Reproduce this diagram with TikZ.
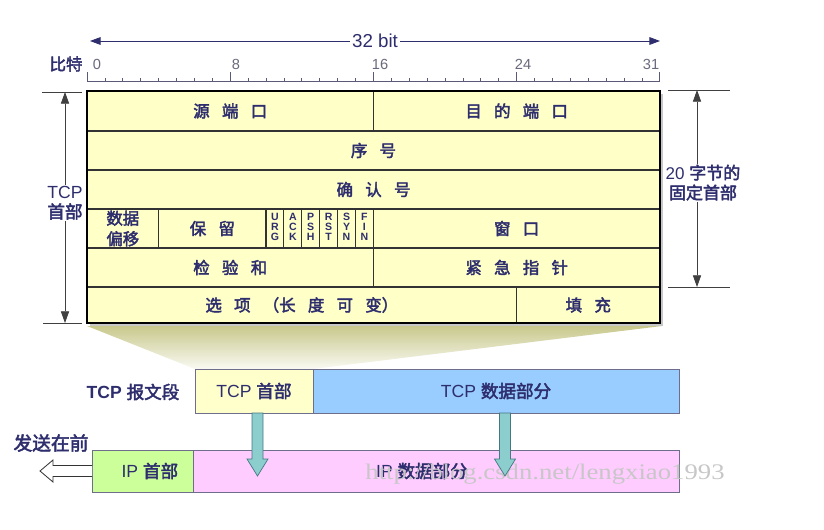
\documentclass[tikz,border=0pt]{standalone}
\usepackage{fontspec}
\setmainfont{Liberation Sans}
\newfontfamily\cjk[AutoFakeBold=2.6]{Noto Sans CJK SC}
\newfontfamily\wmfont{Liberation Serif}
\usetikzlibrary{arrows.meta, positioning, calc}
\definecolor{cNavy}{RGB}{46,46,110}
\definecolor{cGrey}{RGB}{105,105,125}
\definecolor{cRule}{RGB}{90,90,120}
\definecolor{cTable}{RGB}{255,255,200}
\definecolor{cHdr}{RGB}{255,255,204}
\definecolor{cData}{RGB}{153,204,255}
\definecolor{cIpHdr}{RGB}{204,255,153}
\definecolor{cIpData}{RGB}{255,204,255}
\definecolor{cEdge}{RGB}{110,110,140}
\definecolor{cTeal}{RGB}{140,205,205}
\definecolor{cTealDk}{RGB}{70,120,130}
\definecolor{cKhaki}{RGB}{200,200,140}
\newcommand{\zh}[1]{{\cjk\bfseries #1}}
\newcommand{\gap}{\hspace{0.75em}}
\newcommand{\bitw}{17.9}
\tikzset{
    cell/.style     ={draw=black!80, line width=1pt},
    frame/.style    ={draw=black, line width=1.6pt},
    celltext/.style ={font=\fontsize{14}{17.5}\selectfont\cjk\bfseries, text=cNavy, align=center, inner sep=0pt},
    flagtext/.style ={font=\fontsize{9}{8.6}\selectfont\bfseries, text=cNavy, align=center, inner sep=0pt},
    seg/.style      ={draw=cEdge, line width=0.8pt},
    segtext/.style  ={font=\fontsize{15}{18}\selectfont, text=cNavy},
    bitnum/.style   ={font=\fontsize{12.5}{14}\selectfont, text=cGrey, inner sep=0pt},
    ruler/.style    ={draw=cRule, line width=0.6pt},
    bitarrow/.style ={{Triangle[length=9pt,width=6.5pt]}-{Triangle[length=9pt,width=6.5pt]}, draw=cRule, line width=0.7pt, color=cNavy},
    dimline/.style  ={draw=black!75, line width=0.7pt},
    dimarrow/.style ={{Triangle[length=10pt,width=7pt]}-{Triangle[length=10pt,width=7pt]}, draw=black!75, line width=0.7pt},
    downarrow/.style={draw=cTealDk, fill=cTeal, line width=0.6pt},
    hollow/.style   ={draw=black!80, fill=white, line width=0.7pt},
}
\begin{document}
\begin{tikzpicture}[x=0.03cm, y=-0.03cm]
\useasboundingbox (0,0) rectangle (824,529);

% bit scale
\coordinate (bitL) at (90,41);
\coordinate (bitR) at (660,41);
\draw[bitarrow] (bitL) -- node[fill=white, text=cNavy, font=\fontsize{16}{18}\selectfont, inner sep=2pt] (bitLbl) {32 bit} (bitR);
\node[font=\fontsize{14}{16}\selectfont\cjk\bfseries, text=cNavy] (bitWord) at (66,64) {比特};
\draw[ruler] (87,81.5) -- (660,81.5);
\foreach \b in {0,...,32}
    \draw[ruler] ({87+\b*\bitw},81.5) -- ++(0,-3.5);
\foreach \b in {0,8,16,24,32}
    \draw[ruler] ({87+\b*\bitw},81.5) -- ++(0,-10);
\foreach \x/\t in {97/0, 236/8, 380/16, 523/24, 651/31}
    \node[bitnum] (bit\t) at (\x,64) {\t};

% header table
\fill[black!22] (90,94) rectangle (663,326);
\fill[cTable] (87,91) rectangle (660,323);
\draw[cell] (87,91) rectangle node[celltext] (srcPort) {源\gap{}端\gap{}口} (373.4,131);
\draw[cell] (373.4,91) rectangle node[celltext] (dstPort) {目\gap{}的\gap{}端\gap{}口} (660,131);
\draw[cell] (87,131) rectangle node[celltext] (seqNum) {序\gap{}号} (660,170);
\draw[cell] (87,170) rectangle node[celltext] (ackNum) {确\gap{}认\gap{}号} (660,209);
\draw[cell] (87,209) rectangle node[celltext] (dataOff) {数据\\偏移} (158.6,248);
\draw[cell] (158.6,209) rectangle node[celltext] (reserved) {保\gap{}留} (266,248);
\foreach \f/\nm [count=\i from 10] in {{U\\R\\G}/urg, {A\\C\\K}/ack, {P\\S\\H}/psh, {R\\S\\T}/rst, {S\\Y\\N}/syn, {F\\I\\N}/fin}
    \draw[cell] ({87+\i*\bitw},209) rectangle node[flagtext, yshift=0.05cm] (\nm) {\f} ({87+(\i+1)*\bitw},248);
\draw[cell] (373.4,209) rectangle node[celltext] (window) {窗\gap{}口} (660,248);
\draw[cell] (87,248) rectangle node[celltext] (checksum) {检\gap{}验\gap{}和} (373.4,287);
\draw[cell] (373.4,248) rectangle node[celltext] (urgPtr) {紧\gap{}急\gap{}指\gap{}针} (660,287);
\draw[cell] (87,287) rectangle node[celltext] (options) {选\gap{}项\gap{}（长\gap{}度\gap{}可\gap{}变）} (516.6,323);
\draw[cell] (516.6,287) rectangle node[celltext] (padding) {填\gap{}充} (660,323);
\draw[frame] (87,91) rectangle (660,323);

% left dimension
\coordinate (lTop) at (65,92);
\coordinate (lBot) at (65,323);
\draw[dimline] (42,92) -- (82,92);
\draw[dimline] (43,323) -- (82,323);
\draw[dimarrow] (lTop) -- node[fill=white, align=center, font=\fontsize{15}{17}\selectfont, text=cNavy, inner sep=1pt, pos=0.48] (tcpHdrLbl) {TCP\\\zh{首部}} (lBot);

% right dimension
\coordinate (rTop) at (697,90);
\coordinate (rBot) at (697,287);
\draw[dimline] (668,90) -- (730,90);
\draw[dimline] (668,287) -- (730,287);
\draw[dimarrow] (rTop) -- node[fill=white, align=center, font=\fontsize{14.5}{17}\selectfont, text=cNavy, inner sep=1pt, pos=0.47, xshift=0.18cm] (fixedLbl) {20 \zh{字节的}\\\zh{固定首部}} (rBot);

% segment
\shade[top color=cKhaki, bottom color=cKhaki!10] (87,326) -- (662,326) -- (313,369) -- (195,369) -- cycle;
\node[segtext, font=\fontsize{15}{18}\selectfont\bfseries] (segLbl) at (133,392) {TCP \zh{报文段}};
\draw[seg, fill=cHdr] (195,369) rectangle node[segtext] (tcpHdr) {TCP \zh{首部}} (313,413);
\draw[seg, fill=cData] (313,369) rectangle node[segtext] (tcpData) {TCP \zh{数据部分}} (679,413);

% IP datagram
\node[font=\fontsize{16}{18}\selectfont\cjk\bfseries, text=cNavy] (sendFirst) at (51,443) {发送在前};
\draw[seg, fill=cIpHdr] (92,450) rectangle node[segtext, xshift=0.22cm] (ipHdr) {IP \zh{首部}} (193,492);
\draw[seg, fill=cIpData] (193,450) rectangle node[segtext, xshift=-0.42cm] (ipData) {IP \zh{数据部分}} (679,492);
\node[text=black!22, font=\fontsize{19}{21}\selectfont\wmfont] (wmark) at (545,474) {\scalebox{1.2}[1]{http://blog.csdn.net/lengxiao1993}};

% arrows
\coordinate (dnA) at (257.5,413);
\coordinate (dnB) at (505,413);
\foreach \src in {dnA,dnB}
    \draw[downarrow] (\src) ++(-5.5,0) -- ++(0,46) -- ++(-5,0) -- ++(10.5,17) -- ++(10.5,-17) -- ++(-5,0) -- ++(0,-46) -- cycle;
\coordinate (sendArr) at (92,471);
\draw[hollow] (sendArr) ++(0,-5.5) -- ++(-39,0) -- ++(0,-5.5) -- ++(-13,11) -- ++(13,11) -- ++(0,-5.5) -- ++(39,0);
\end{tikzpicture}
\end{document}
